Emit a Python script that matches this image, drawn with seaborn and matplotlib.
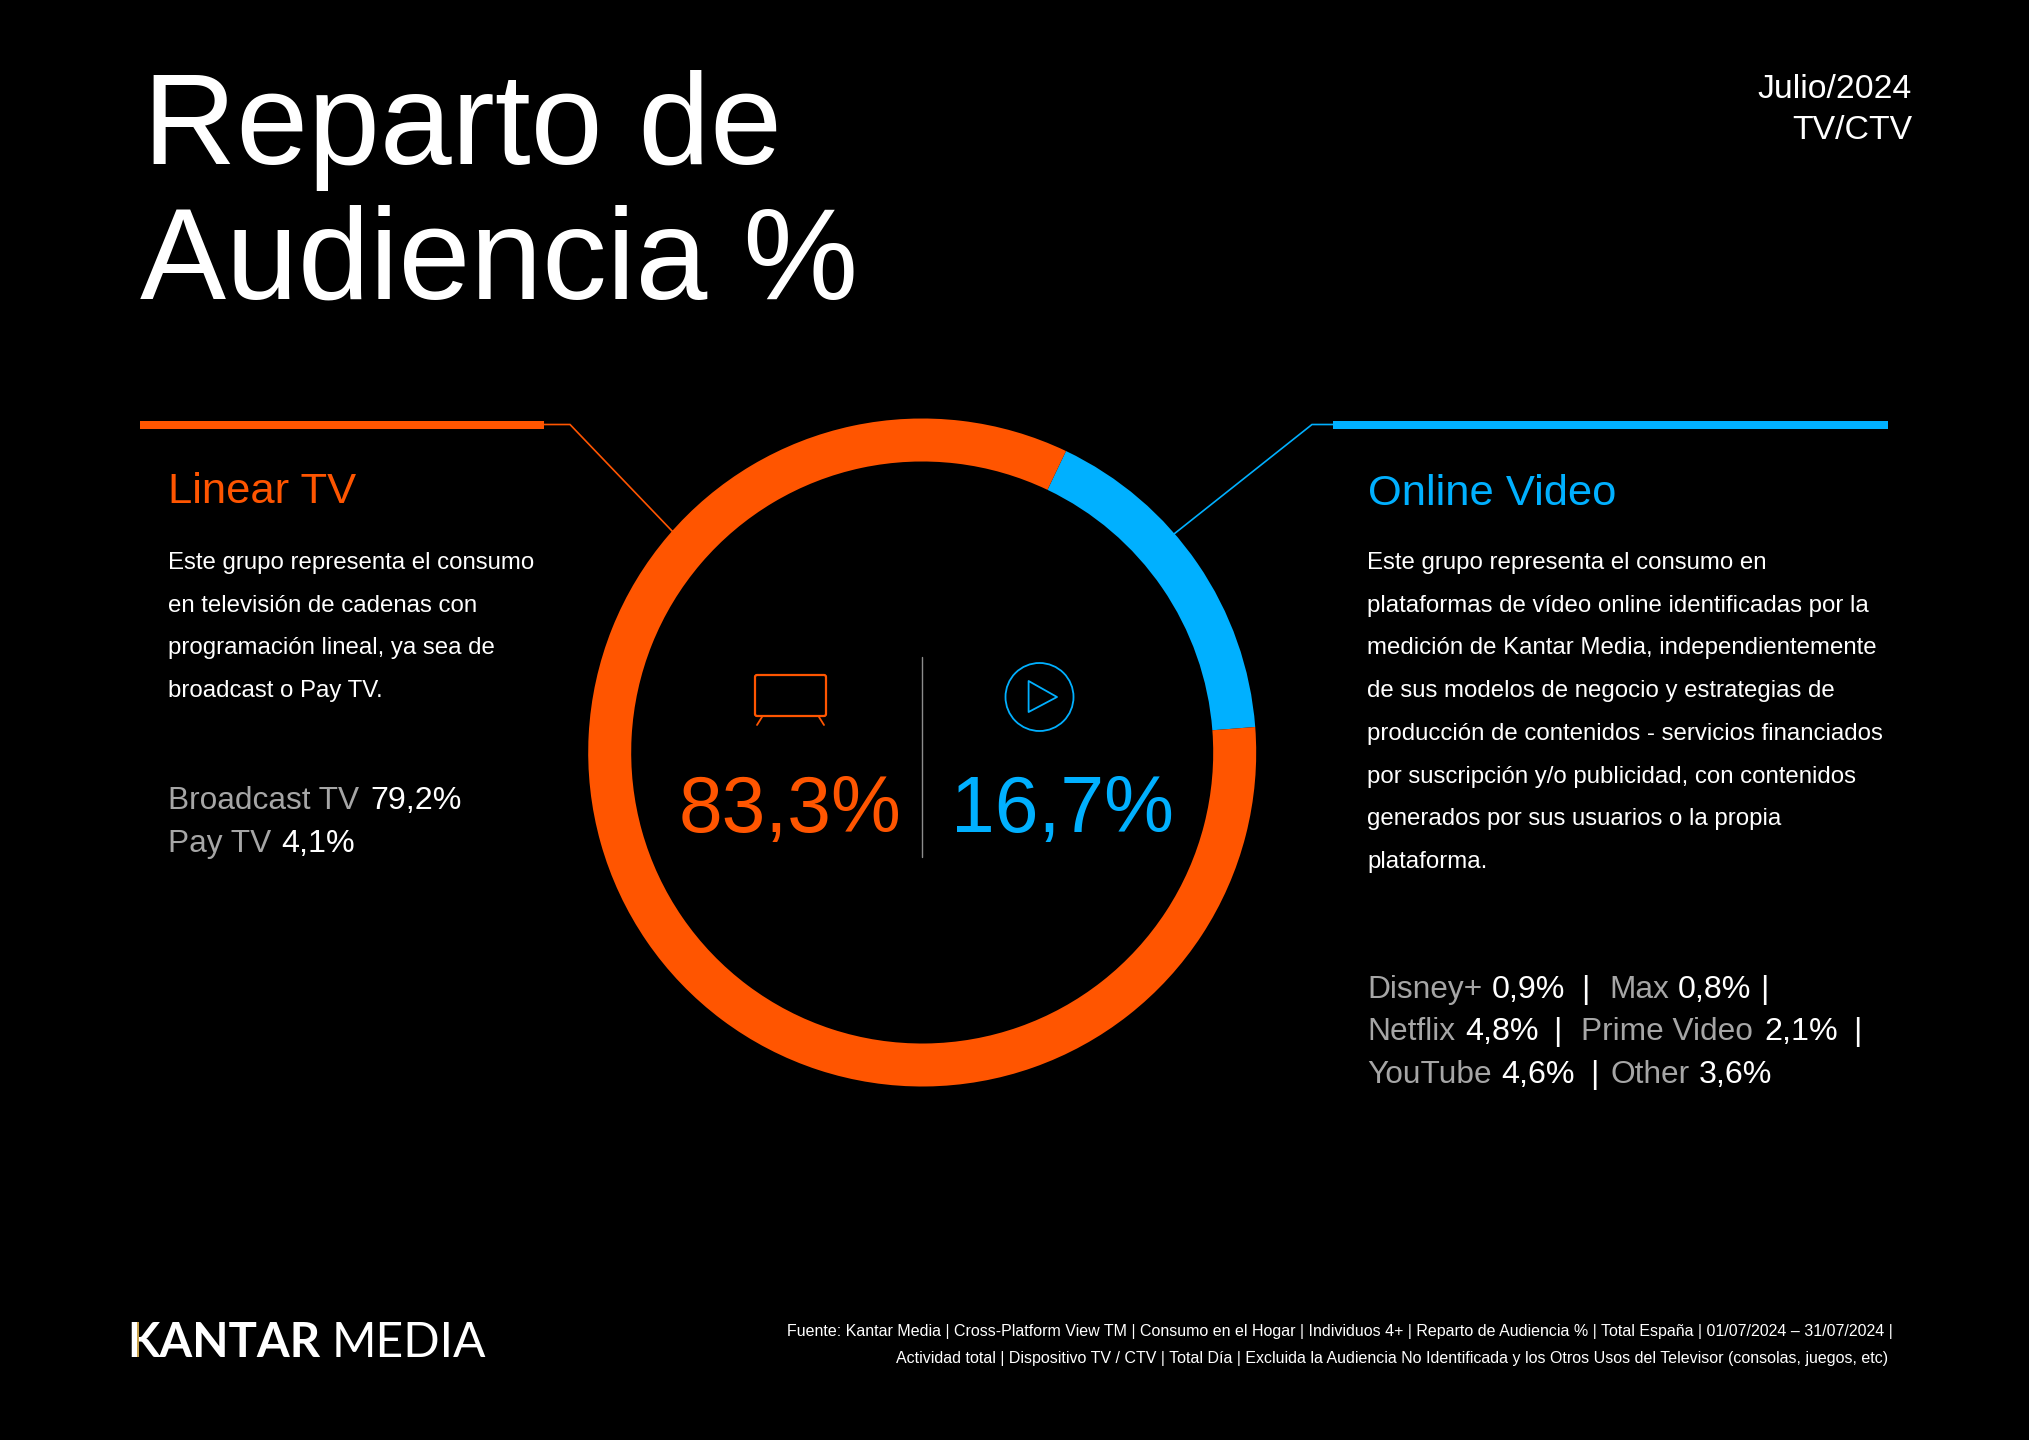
import matplotlib
matplotlib.use("Agg")
import matplotlib.pyplot as plt
from matplotlib.patches import Circle, Polygon, FancyBboxPatch, Rectangle
import seaborn as sns

# ---- data ----
segments = ["Online Video", "Linear TV"]
shares = [16.7, 83.3]
linear_names = ["Broadcast TV", "Pay TV"]
linear_values = ["79,2%", "4,1%"]
online_names = ["Disney+", "Max", "Netflix", "Prime Video", "YouTube", "Other"]
online_values = ["0,9%", "0,8%", "4,8%", "2,1%", "4,6%", "3,6%"]
title_lines = ["Reparto de", "Audiencia %"]
period_lines = ["Julio/2024", "TV/CTV"]
linear_body = ["Este grupo representa el consumo",
               "en televisión de cadenas con",
               "programación lineal, ya sea de",
               "broadcast o Pay TV."]
online_body = ["Este grupo representa el consumo en",
               "plataformas de vídeo online identificadas por la",
               "medición de Kantar Media, independientemente",
               "de sus modelos de negocio y estrategias de",
               "producción de contenidos - servicios financiados",
               "por suscripción y/o publicidad, con contenidos",
               "generados por sus usuarios o la propia",
               "plataforma."]
footer_lines = ["Fuente: Kantar Media | Cross-Platform View TM | Consumo en el Hogar | Individuos 4+ | Reparto de Audiencia % | Total España | 01/07/2024 – 31/07/2024 |",
                "Actividad total | Dispositivo TV / CTV | Total Día | Excluida la Audiencia No Identificada y los Otros Usos del Televisor (consolas, juegos, etc)"]

# ---- style ----
W, H = 2029, 1440
ORANGE, BLUE = "#FF5500", "#00B0FF"
GREY = "#A6A6A6"
sns.set_theme(style="dark", rc={"figure.facecolor": "black", "axes.facecolor": "black",
                                "savefig.facecolor": "black"})
plt.rcParams["font.family"] = ["Liberation Sans", "DejaVu Sans"]
palette = sns.color_palette([BLUE, ORANGE])

fig = plt.figure(figsize=(W / 100, H / 100), dpi=100)

# overlay in pixel coordinates for annotations
ov = fig.add_axes([0, 0, 1, 1])
ov.set_xlim(0, W)
ov.set_ylim(H, 0)
ov.axis("off")

# donut
cx, cy, R, r_in = 922.2, 752.5, 334.0, 291.0
ax = fig.add_axes([(cx - R) / W, 1 - (cy + R) / H, 2 * R / W, 2 * R / H])
ax.pie(shares, colors=palette, startangle=64.5, counterclock=False, radius=1,
       wedgeprops={"width": (R - r_in) / R, "linewidth": 0})
ax.set_xlim(-1, 1)
ax.set_ylim(-1, 1)
ax.patch.set_alpha(0)


def T(x, y, s, size, color="white", ha="left", **kw):
    return ov.text(x, y, s, fontsize=size, color=color, ha=ha, va="baseline", **kw)


# title & period
for s, x, y in zip(title_lines, [143, 140], [164, 299]):
    T(x, y, s, 93.0)
for s, y in zip(period_lines, [98, 139]):
    T(1912, y, s, 24.3, ha="right")

# leader lines
ov.add_patch(Rectangle((140, 420.5), 404, 8, color=ORANGE, lw=0))
ov.plot([544, 570, 673], [424.5, 424.5, 532], color=ORANGE, lw=1.2, solid_joinstyle="miter")
ov.add_patch(Rectangle((1333, 420.5), 555, 8, color=BLUE, lw=0))
ov.plot([1333, 1312, 1174], [424.5, 424.5, 534], color=BLUE, lw=1.2, solid_joinstyle="miter")

# headings
T(168, 503, segments[1], 31.3, ORANGE)
T(1368, 505, segments[0], 31.3, BLUE)

# body
for i, s in enumerate(linear_body):
    T(168, 569 + i * 42.7, s, 17.3)
for i, s in enumerate(online_body):
    T(1367, 569 + i * 42.7, s, 17.3)

# breakdown lists
S, SV = 22.8, 23.2
T(168, 809, linear_names[0], S, GREY)
T(370, 809, linear_values[0], SV)
T(168, 852, linear_names[1], S, GREY)
T(281, 852, linear_values[1], SV)

rows = [(998, [(1367, 0), (1609, 1)], [1492, 1678], [1581, 1760]),
        (1040, [(1367, 2), (1581, 3)], [1465, 1764], [1553, 1853]),
        (1083, [(1367, 4), (1611, 5)], [1501, 1699], [1590])]
for y, names, vals, bars in rows:
    for (x, idx), vx in zip(names, vals):
        T(x, y, online_names[idx], S, GREY)
        T(vx, y, online_values[idx], SV)
    for bx in bars:
        T(bx, y, "|", S)

# centre
T(679, 832, f"{shares[1]:.1f}%".replace(".", ","), 56.6, ORANGE)
T(951, 832, f"{shares[0]:.1f}%".replace(".", ","), 56.6, BLUE)
ov.plot([922.4, 922.4], [657, 857], color="#8C8C8C", lw=1.0)

# TV icon
ov.add_patch(FancyBboxPatch((755, 675), 71, 41, boxstyle="round,pad=0,rounding_size=2",
                            fill=False, ec=ORANGE, lw=1.6))
ov.plot([762, 757], [717, 725], color=ORANGE, lw=1.3)
ov.plot([819, 824], [717, 725], color=ORANGE, lw=1.3)
# play icon
ov.add_patch(Circle((1039.5, 697), 34, fill=False, ec=BLUE, lw=1.3))
ov.add_patch(Polygon([(1028.6, 681), (1028.6, 712), (1057, 697)], closed=True, fill=False,
                     ec=BLUE, lw=1.3, joinstyle="round"))

# logo
T(127, 1357, "KANTAR", 34, family=["Lato", "DejaVu Sans"], fontweight="bold")
T(332, 1357, "MEDIA", 34.6, family=["Lato", "DejaVu Sans"])
ov.add_patch(Rectangle((136.5, 1322), 2.5, 35, color="#C9A24B", lw=0, zorder=5))

# footer
T(1893, 1336, footer_lines[0], 11.49, ha="right")
T(1888, 1363, footer_lines[1], 11.49, ha="right")

fig.savefig("out.png", dpi=100, facecolor="black")
